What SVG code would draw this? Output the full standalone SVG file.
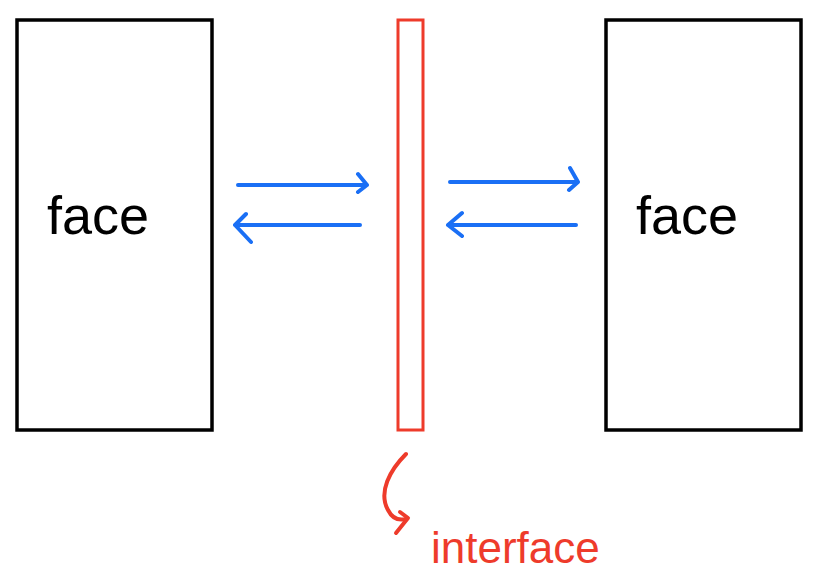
<svg xmlns="http://www.w3.org/2000/svg" width="814" height="576" viewBox="0 0 814 576">
<style>
.box{fill:none;stroke:#000;stroke-width:3.5}
.iface{fill:none;stroke:#ee3b2b;stroke-width:3}
.conn{fill:none;stroke:#1a6ff5;stroke-width:4;stroke-linecap:round;stroke-linejoin:round}
.lbl{font-family:"Liberation Sans",Arial,sans-serif;font-size:54px;fill:#000}
.red{font-family:"Liberation Sans",Arial,sans-serif;font-size:44px;fill:#ee3b2b}
</style>
<rect width="814" height="576" fill="#fff"/>
<g id="face-left">
<rect class="box" x="17" y="20" width="195" height="410"/>
<text class="lbl" x="47" y="234">face</text>
</g>
<g id="interface">
<rect class="iface" x="398" y="20" width="25" height="410"/>
<path d="M406 454 C390 470 378 492 388 510 C392 518 398 521 406 519" fill="none" stroke="#ee3b2b" stroke-width="4" stroke-linecap="round" stroke-linejoin="round"/>
<path d="M400 512 L408 518 L396 533" fill="none" stroke="#ee3b2b" stroke-width="4" stroke-linecap="round" stroke-linejoin="round"/>
<text class="red" x="431" y="563">interface</text>
</g>
<g id="face-right">
<rect class="box" x="606" y="20" width="195" height="410"/>
<text class="lbl" x="636" y="234">face</text>
</g>
<g id="connectors">
<path class="conn" d="M238 185 L367 185 M358 174 L367 185 L358 192"/>
<path class="conn" d="M360 225 L235 225 M246 214 L235 225 L251 242"/>
<path class="conn" d="M450 182 L578 182 M570 168 L578 182 L569 190"/>
<path class="conn" d="M576 225 L448 225 M462 213 L448 225 L462 236"/>
</g>
</svg>
